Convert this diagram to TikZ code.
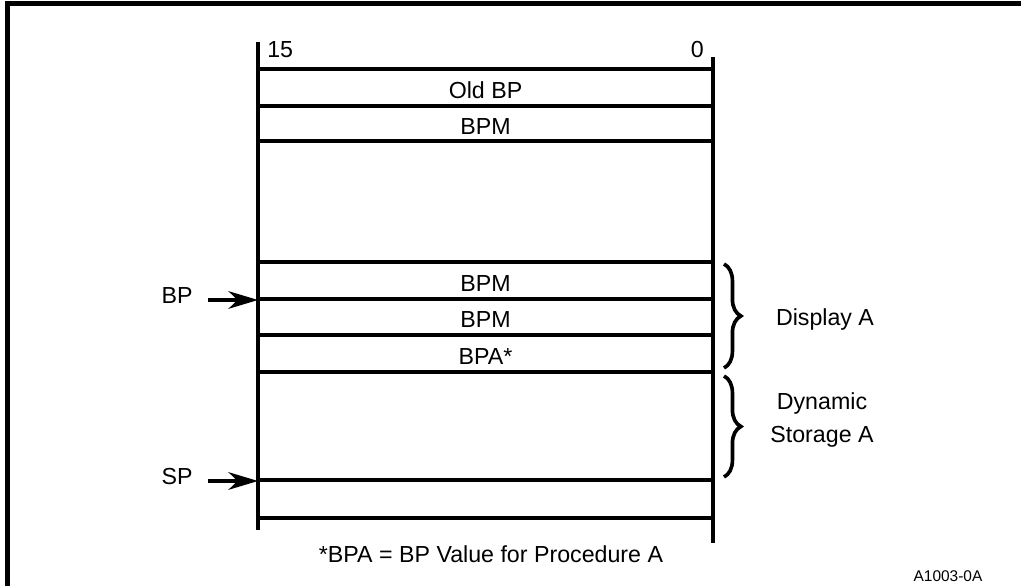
\documentclass[tikz,border=0pt]{standalone}
\usepackage{fontspec}
\setmainfont{Liberation Sans}
\usetikzlibrary{arrows.meta,decorations.pathreplacing}

\begin{document}
\begin{tikzpicture}[x=0.025cm, y=-0.025cm,
  every node/.style={font=\fontsize{16.5}{23.4}\selectfont, inner sep=0pt},
  rule/.style={line width=2.4pt},
  field/.style={anchor=base},
  ptr/.style={line width=2.2pt, -{Stealth[length=21pt,width=12.5pt,inset=6.5pt]}},
  curly/.style={line width=2.6pt, decorate, decoration={brace, amplitude=12pt}}]
  \useasboundingbox (0,0) rectangle (1021,586);

  % Frame
  \draw[line width=3pt] (7.5,586) -- (7.5,3.5) -- (1021,3.5);

  % Stack columns and rows
  \draw[rule] (258,42) -- (258,530);
  \draw[rule] (713,57) -- (713,543);
  \foreach \y in {69,106,141,262,299,335,372,480,518}
    \draw[rule] (258,\y) -- (713,\y);

  % Bit numbers
  \node[anchor=base west] (msb) at (267,57) {15};
  \node[anchor=base east] (lsb) at (704,57) {0};

  % Fields
  \node[field] (oldbp) at (485.5,98) {Old BP};
  \node[field] (bpm1) at (485.5,134) {BPM};
  \node[field] (bpm2) at (485.5,291) {BPM};
  \node[field] (bpm3) at (485.5,327) {BPM};
  \node[field] (bpa) at (485.5,364) {BPA*};

  % Pointers
  \node[anchor=base] (bp) at (177,303) {BP};
  \node[anchor=base] (sp) at (177,484) {SP};
  \coordinate (bphead) at (258,300);
  \coordinate (sphead) at (258,481);
  \draw[ptr] ([xshift=11pt]bp.east |- bphead) -- (bphead);
  \draw[ptr] ([xshift=11pt]sp.east |- sphead) -- (sphead);

  % Braces
  \draw[curly] (724,264) -- (724,368);
  \draw[curly] (724,376) -- (724,477);
  \node[anchor=base] (disp) at (825,325) {Display A};
  \node[anchor=base, align=center] (dyn) at (822,442) {Dynamic\\Storage A};

  % Notes
  \node[anchor=base] (note) at (491,562) {*BPA = BP Value for Procedure A};
  \node[anchor=base, font=\fontsize{11}{13}\selectfont] (fig) at (948,581) {A1003-0A};
\end{tikzpicture}
\end{document}
